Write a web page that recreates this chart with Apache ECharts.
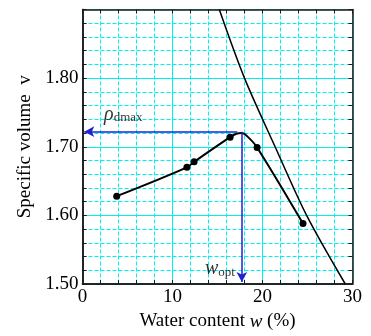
<!DOCTYPE html>
<html>
<head>
<meta charset="utf-8">
<script src="https://cdn.jsdelivr.net/npm/echarts@6/dist/echarts.min.js"></script>
<style>
  html, body { margin: 0; padding: 0; background: #fff; }
  #chart { width: 371px; height: 336px; }
</style>
</head>
<body>
<div id="chart"></div>
<script>
// measured points
const testW = [3.8, 11.6, 12.4, 16.4, 19.4, 24.5];
const testV = [1.628, 1.670, 1.678, 1.714, 1.699, 1.588];
// compaction curve as drawn (incl. the peak)
const curveW = [3.8, 11.6, 12.4, 16.4, 17.1, 17.7, 18.4, 19.4, 24.5];
const curveV = [1.628, 1.670, 1.678, 1.714, 1.719, 1.720, 1.714, 1.699, 1.588];
// saturation line
const satW = [15.2, 18.0, 21.4, 24.9, 29.2];
const satV = [1.90, 1.80, 1.70, 1.60, 1.50];
// optimum
const optW = 17.7;
const maxV = 1.722;

const FONT = 'Liberation Serif';
const CYAN = '#00f0f0';
const BLUE = '#2020d0';
const AXIS = '#1a1a1a';

const zip = (a, b) => a.map((x, i) => [x, b[i]]);

const chart = echarts.init(document.getElementById('chart'));

const axisLine = { show: true, onZero: false, lineStyle: { color: AXIS, width: 1.5 } };
const tick = { show: true, inside: true, length: 4, lineStyle: { color: AXIS } };
const dashed = { show: true, lineStyle: { color: CYAN, width: 1, type: [4, 2] } };
const solid = { show: true, lineStyle: { color: CYAN, width: 1 } };
const off = { show: false };

// fine axes: ticks every 2 % / 0.02, dashed grid
const fineX = pos => ({
  type: 'value', position: pos, min: 0, max: 30, interval: 2,
  axisLine, axisTick: tick, axisLabel: off, minorTick: off, minorSplitLine: off,
  splitLine: pos === 'top' ? dashed : off,
});
const fineY = pos => ({
  type: 'value', position: pos, min: 1.5, max: 1.9, interval: 0.02,
  axisLine, axisTick: tick, axisLabel: off, minorTick: off, minorSplitLine: off,
  splitLine: pos === 'right' ? dashed : off,
});

chart.setOption({
  animation: false,
  textStyle: { fontFamily: FONT },
  // sized so one fine step is a whole number of pixels (18 px / 14 px)
  grid: { left: 82.5, right: 18.5, top: 9.5, bottom: 46.5 },
  xAxis: [
    fineX('top'),
    {
      type: 'value', position: 'bottom', min: 0, max: 30, interval: 10,
      axisLine,
      axisTick: tick,
      minorTick: off,
      minorSplitLine: off,
      name: 'Water content {i|w} (%)',
      nameLocation: 'middle',
      nameGap: 28,
      nameTextStyle: {
        fontFamily: FONT, fontSize: 19, color: '#000',
        rich: { i: { fontFamily: FONT, fontSize: 19, fontStyle: 'italic', color: '#000' } },
      },
      axisLabel: { fontFamily: FONT, fontSize: 19, color: '#000', margin: 4 },
      splitLine: solid,
    },
    fineX('bottom'),
  ],
  yAxis: [
    fineY('right'),
    {
      type: 'value', position: 'left', min: 1.5, max: 1.9, interval: 0.1,
      axisLine,
      axisTick: tick,
      minorTick: off,
      minorSplitLine: off,
      name: 'Specific volume  v',
      nameLocation: 'middle',
      nameGap: 43,
      nameTextStyle: { fontFamily: FONT, fontSize: 19, color: '#000' },
      axisLabel: {
        fontFamily: FONT, fontSize: 19, color: '#000', margin: 4,
        formatter: v => (v > 1.85 ? '' : v.toFixed(2)),
      },
      splitLine: solid,
    },
    fineY('left'),
  ],
  series: [
    {
      name: 'saturation',
      type: 'line',
      xAxisIndex: 1, yAxisIndex: 1,
      data: zip(satW, satV),
      smooth: 0.3,
      symbol: 'none',
      lineStyle: { color: '#000', width: 1.5 },
      silent: true,
    },
    {
      name: 'curve',
      type: 'line',
      xAxisIndex: 1, yAxisIndex: 1,
      data: zip(curveW, curveV),
      smooth: 0.35,
      symbol: 'none',
      lineStyle: { color: '#000', width: 2 },
      silent: true,
      markLine: {
        silent: true,
        symbol: ['none', 'arrow'],
        symbolSize: [8, 10],
        label: { show: false },
        lineStyle: { color: BLUE, width: 1.5, type: 'solid' },
        data: [
          [{ coord: [17.2, maxV] }, { coord: [0.2, maxV] }],
          [{ coord: [optW, maxV] }, { coord: [optW, 1.503] }],
        ],
      },
    },
    {
      name: 'tests',
      type: 'scatter',
      xAxisIndex: 1, yAxisIndex: 1,
      data: zip(testW, testV),
      symbol: 'circle',
      symbolSize: 7,
      itemStyle: { color: '#000', opacity: 1 },
      silent: true,
    },
    {
      name: 'labels',
      type: 'scatter',
      xAxisIndex: 1, yAxisIndex: 1,
      symbolSize: 0,
      silent: true,
      data: [
        { value: [2.4, 1.747], label: { formatter: '{r|ρ}{s|dmax}' } },
        { value: [13.6, 1.522], label: { formatter: '{r|w}{s|opt}' } },
      ],
      label: {
        show: true,
        position: 'right',
        distance: 0,
        rich: {
          r: { fontFamily: FONT, fontSize: 20, fontStyle: 'italic', color: '#000' },
          s: { fontFamily: FONT, fontSize: 13, color: '#000', padding: [7, 0, 0, 0] },
        },
      },
    },
  ],
});
</script>
</body>
</html>
